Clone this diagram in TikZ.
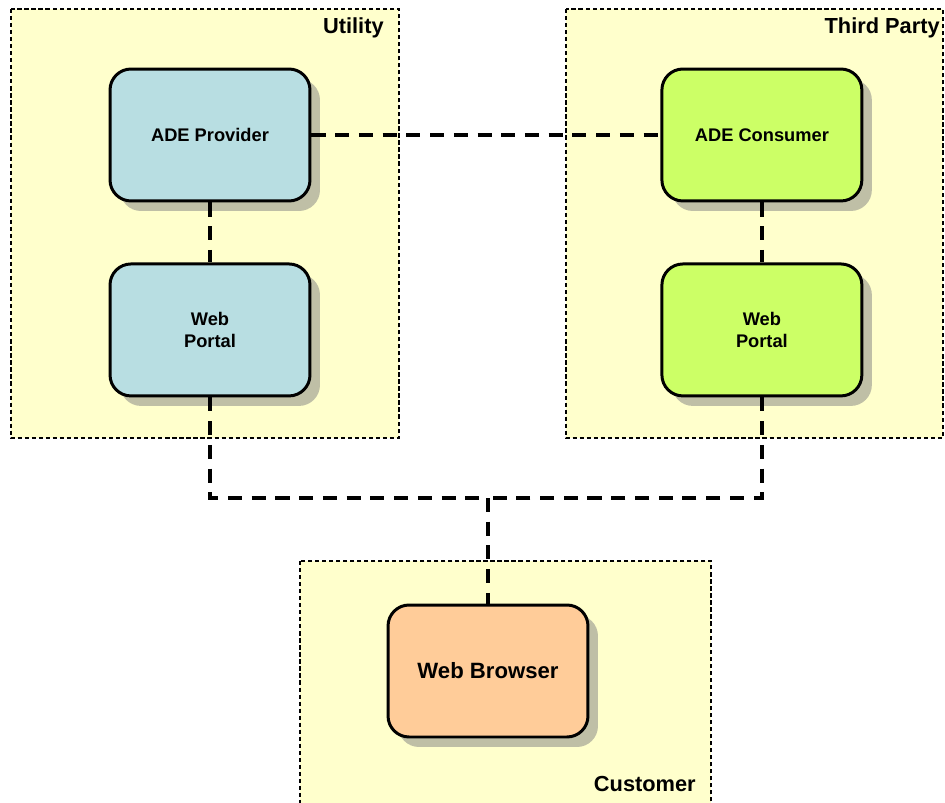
\documentclass[tikz,border=0pt]{standalone}
\usepackage{fontspec}
\setmainfont{Liberation Sans}
\usepackage{tikz}
\usetikzlibrary{positioning, shadows, calc}
\definecolor{zonefill}{HTML}{FFFFCC}
\definecolor{provfill}{HTML}{B8DEE2}
\definecolor{consfill}{HTML}{CCFF66}
\definecolor{browfill}{HTML}{FFCC99}
\definecolor{shadegray}{HTML}{BFBFA6}
\tikzstyle{zone} = [draw=black, fill=zonefill, line width=0.6pt, dash pattern=on 2.4pt off 1.6pt]
\tikzstyle{zonelabel} = [anchor=east, font=\bfseries\fontsize{12.4}{14}\selectfont, inner sep=0pt]
\tikzstyle{block} = [rectangle, rounded corners=0.42cm, minimum width=4cm, minimum height=2.64cm, align=center, line width=1.7pt, draw=black, font=\bfseries\fontsize{10.4}{13}\selectfont, drop shadow={shadow xshift=0.2cm, shadow yshift=-0.2cm, fill=shadegray, opacity=1}]
\tikzstyle{link} = [line width=2pt, dash pattern=on 8pt off 5.5pt]

\begin{document}
\begin{tikzpicture}[x=0.02cm, y=-0.02cm]
  \useasboundingbox (0,0) rectangle (945,803);
  % zones
  \draw[zone] (11,9) rectangle (399,438);
  \draw[zone] (566,9) rectangle (943,438);
  \draw[zone] (300,561) rectangle (711,806);
  \node[zonelabel] (utilitylbl) at (384,28) {Utility};
  \node[zonelabel] (thirdlbl) at (940,28) {Third Party};
  \node[zonelabel] (customerlbl) at (696,784) {Customer};

  % nodes
  \node[block, fill=provfill] (provider) at (210,135) {ADE Provider};
  \node[block, fill=provfill, below=1.2cm of provider] (uportal) {Web\\Portal};
  \node[block, fill=consfill, right=6.98cm of provider] (consumer) {ADE Consumer};
  \node[block, fill=consfill, below=1.2cm of consumer] (tportal) {Web\\Portal};
  \node[block, fill=browfill, font=\bfseries\fontsize{12.6}{15}\selectfont] (browser) at (488,671) {Web Browser};
  \coordinate (hub) at (488,498);

  % links
  \draw[link] (provider) -- (consumer);
  \draw[link] (provider) -- (uportal);
  \draw[link] (consumer) -- (tportal);
  \draw[link] (uportal.south) |- (hub);
  \draw[link] (tportal.south) |- (hub);
  \draw[link] (hub) -- (browser.north);
\end{tikzpicture}
\end{document}
